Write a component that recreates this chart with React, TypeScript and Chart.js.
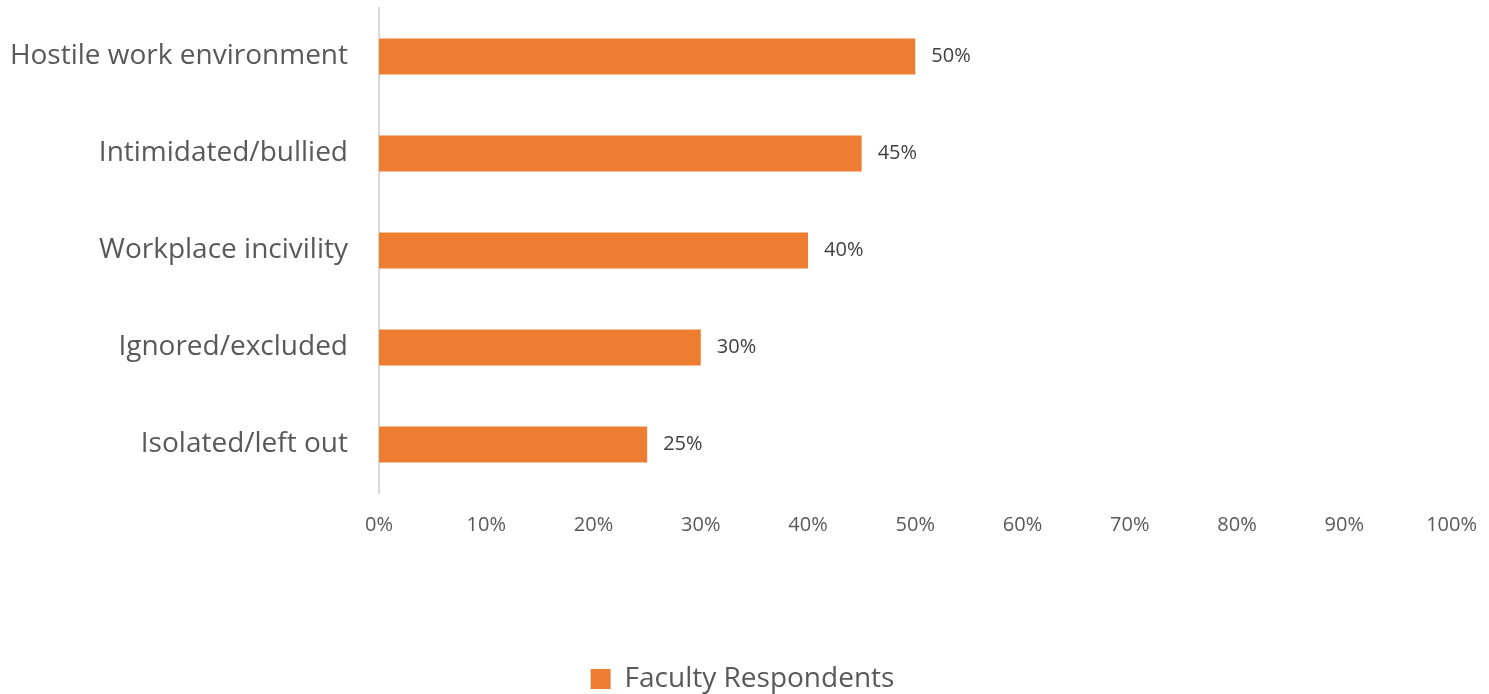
import React, { useEffect, useRef } from "react";
import { Chart, registerables } from "chart.js";

Chart.register(...registerables);

const categories = [
  "Hostile work environment",
  "Intimidated/bullied",
  "Workplace incivility",
  "Ignored/excluded",
  "Isolated/left out",
];
const seriesLabel = "Faculty Respondents";
const values = [50, 45, 40, 30, 25];
const xTicks = [0, 10, 20, 30, 40, 50, 60, 70, 80, 90, 100];

const FONT = "'Open Sans', 'Noto Sans', sans-serif";
const ORANGE = "#ED7D31";

const dataLabels = {
  id: "dataLabels",
  afterDatasetsDraw(chart: any) {
    const ctx = chart.ctx;
    const meta = chart.getDatasetMeta(0);
    ctx.save();
    ctx.font = `20px ${FONT}`;
    ctx.fillStyle = "#404040";
    ctx.textAlign = "left";
    ctx.textBaseline = "middle";
    meta.data.forEach((bar: any, i: number) => {
      ctx.fillText(`${values[i]}%`, bar.x + 16, bar.y);
    });
    ctx.restore();
  },
};

export default function App() {
  const ref = useRef<HTMLCanvasElement | null>(null);
  useEffect(() => {
    if (!ref.current) return;
    const chart = new Chart(ref.current, {
      type: "bar",
      data: {
        labels: categories,
        datasets: [
          {
            label: seriesLabel,
            data: values,
            backgroundColor: ORANGE,
            borderWidth: 0,
            categoryPercentage: 1,
            barPercentage: 0.37,
          },
        ],
      },
      options: {
        indexAxis: "y",
        animation: false,
        responsive: false,
        maintainAspectRatio: false,
        layout: { padding: { top: 8, left: 8, right: 12, bottom: -9 } },
        plugins: {
          tooltip: { enabled: false },
          legend: {
            position: "bottom",
            labels: {
              font: { family: FONT, size: 28 },
              color: "#595959",
              boxWidth: 20,
              boxHeight: 20,
              padding: 8,
            },
          },
        },
        scales: {
          x: {
            min: 0,
            max: 100,
            afterBuildTicks(scale: any) {
              scale.ticks = xTicks.map((v) => ({ value: v }));
            },
            afterFit(scale: any) {
              scale.height = 164;
            },
            ticks: {
              callback: (v: any) => `${v}%`,
              font: { family: FONT, size: 20 },
              color: "#595959",
              padding: 12,
              maxRotation: 0,
            },
            grid: { display: false },
            border: { display: false },
          },
          y: {
            afterFit(scale: any) {
              scale.paddingTop = 0;
              scale.paddingBottom = 0;
              scale.width = 371;
            },
            ticks: {
              font: { family: FONT, size: 28 },
              color: "#595959",
              padding: 31,
            },
            grid: { display: false, drawTicks: false },
            border: { display: true, color: "#D9D9D9", width: 2 },
          },
        },
      },
      plugins: [dataLabels],
    });
    return () => chart.destroy();
  }, []);
  return (
    <div style={{ position: "absolute", left: 0, top: 0, width: 1489, height: 694, background: "#fff" }}>
      <canvas ref={ref} width={1489} height={694} style={{ width: 1489, height: 694 }} />
    </div>
  );
}
